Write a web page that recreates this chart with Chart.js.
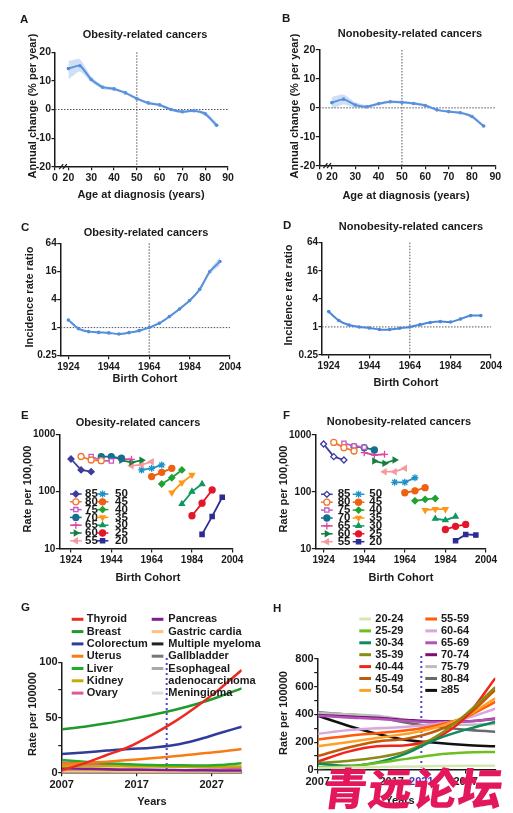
<!DOCTYPE html>
<html>
<head>
<meta charset="utf-8">
<script src="https://cdn.jsdelivr.net/npm/chart.js@4.4.1/dist/chart.umd.min.js"></script>
<style>
html, body { margin: 0; padding: 0; background: #fff; }
#fig { position: relative; width: 513px; height: 813px; overflow: hidden;
  font-family: "Liberation Sans", Arial, sans-serif; font-weight: bold; color: #1a1a1a; }
#fig canvas { position: absolute; }
.t { position: absolute; white-space: nowrap; font-size: 11px; line-height: 13px; transform: translate(-50%, -50%); }
.v { transform: translate(-50%, -50%) rotate(-90deg); }
.k { position: absolute; font-size: 11.5px; line-height: 13px; transform: translateY(-50%); }
#wm { position: absolute; left: 324px; top: 764px; font-family: "Noto Sans CJK SC", sans-serif; font-weight: 900;
  font-size: 44px; line-height: 44px; color: #e3175c; letter-spacing: 1px; transform: skewX(-8deg); white-space: nowrap; }
</style>
</head>
<body>
<div id="fig"></div>
<script>
// A, B: annual percent change by age at diagnosis
var ages = [20, 25, 30, 35, 40, 45, 50, 55, 60, 65, 70, 75, 80, 85];
var obesityAPC   = [14.3, 15.3, 10.5, 7.8, 7.2, 5.8, 3.8, 2.3, 1.6, 0.0, -0.8, -0.4, -1.5, -5.5];
var obesityAPCLo = [10.5, 13.3, 9.6, 7.1, 6.6, 5.3, 3.3, 1.8, 1.1, -0.5, -1.3, -0.9, -2.2, -6.5];
var obesityAPCHi = [17.0, 17.6, 11.5, 8.5, 7.8, 6.3, 4.3, 2.8, 2.1, 0.5, -0.3, 0.1, -0.8, -4.5];
var nonobesityAPC   = [1.8, 3.0, 1.0, 0.4, 1.4, 2.1, 1.9, 1.5, 0.8, -0.7, -1.3, -1.7, -3.0, -6.3];
var nonobesityAPCLo = [-0.3, 1.2, 0.1, -0.1, 0.9, 1.6, 1.4, 1.0, 0.3, -1.1, -1.7, -2.1, -3.5, -6.9];
var nonobesityAPCHi = [3.8, 4.6, 1.9, 0.9, 1.9, 2.6, 2.4, 2.0, 1.3, -0.3, -0.9, -1.3, -2.5, -5.7];

// C, D: incidence rate ratio by birth cohort
var cohorts = [1924, 1929, 1934, 1939, 1944, 1949, 1954, 1959, 1964, 1969, 1974, 1979, 1984, 1989, 1994, 1999];
var obesityIRR   = [1.46, 0.95, 0.82, 0.79, 0.77, 0.73, 0.78, 0.86, 1.0, 1.24, 1.72, 2.5, 3.8, 6.6, 15.8, 26];
var obesityIRRLo = [1.38, 0.92, 0.80, 0.77, 0.75, 0.71, 0.76, 0.84, 0.98, 1.21, 1.67, 2.42, 3.65, 6.2, 14.3, 21];
var obesityIRRHi = [1.55, 0.98, 0.84, 0.81, 0.79, 0.75, 0.80, 0.88, 1.02, 1.27, 1.77, 2.58, 3.95, 7.0, 17.4, 32];
var nonobesityIRR = [2.13, 1.37, 1.1, 1.0, 0.95, 0.88, 0.88, 0.94, 1.0, 1.12, 1.24, 1.3, 1.28, 1.48, 1.75, 1.75];

// E, F: rate per 100,000 by age group, three periods each (cohort = period - age)
var ageGroups = [85, 80, 75, 70, 65, 60, 55, 50, 45, 40, 35, 30, 25, 20];
var periods = [2009, 2014, 2019];
var obesityRates = [
  [371, 239, 223], [410, 356, 347], [410, 347, 342], [408, 408, 382], [397, 371, 366],
  [352, 325, 352], [284, 292, 333], [239, 255, 292], [183, 217, 255], [136, 175, 239],
  [96, 143, 195], [61, 100, 136], [38, 63, 107], [18, 37, 80]
];
var nonobesityRates = [
  [696, 417, 364], [742, 600, 524], [714, 642, 608], [624, 600, 546], [489, 446, 458],
  [349, 318, 364], [227, 227, 260], [148, 148, 178], [97, 105, 119], [70, 74, 77],
  [48, 50, 50], [34, 32, 37], [22, 25, 27], [14, 18, 17.6]
];

// G: projected rate per 100000 by cancer type
var gYears = [2007, 2010, 2013, 2016, 2019, 2022, 2025, 2028, 2031];
var cancerTypes = ['Thyroid', 'Breast', 'Colorectum', 'Uterus', 'Liver', 'Kidney', 'Ovary',
  'Pancreas', 'Gastric cardia', 'Multiple myeloma', 'Gallbladder', 'Esophageal\nadenocarcinoma', 'Meningioma'];
var cancerRates = [
  [2, 8.5, 16, 23.5, 34, 46, 60, 75.5, 93],
  [39.3, 41.7, 44.7, 48.3, 52.3, 56.8, 62.2, 68.8, 76.4],
  [17, 18.4, 20, 21.5, 22.6, 25, 29.6, 35.7, 41.7],
  [7.6, 8.8, 10, 11.5, 13, 14.8, 17, 19, 21.5],
  [11.5, 10, 8.5, 7.7, 7, 6.7, 6.5, 7, 8.5],
  [5.8, 5.8, 5.8, 5.7, 5.6, 5.5, 5.5, 5.5, 5.6],
  [9, 8.2, 7.5, 6.8, 6.2, 5.6, 5, 4.6, 4.2],
  [4, 3.6, 3.2, 2.9, 2.6, 2.4, 2.2, 2.0, 1.9],
  [1.2, 1.1, 1.0, 0.9, 0.9, 0.8, 0.8, 0.7, 0.7],
  [1.6, 1.6, 1.6, 1.6, 1.6, 1.6, 1.6, 1.6, 1.6],
  [1.0, 1.0, 1.0, 1.0, 1.0, 1.0, 1.0, 1.0, 1.0],
  [0.5, 0.5, 0.5, 0.5, 0.5, 0.5, 0.5, 0.5, 0.5],
  [0.3, 0.3, 0.3, 0.3, 0.3, 0.3, 0.3, 0.3, 0.3]
];

// H: projected rate per 100000 by age band
var hYears = [2007, 2011, 2015, 2019, 2023, 2027, 2031];
var ageBands = ['20-24', '25-29', '30-34', '35-39', '40-44', '45-49', '50-54',
  '55-59', '60-64', '65-69', '70-74', '75-79', '80-84', '\u226585'];
var bandRates = [
  [15, 18, 22, 25, 28, 30, 30],
  [20, 25, 50, 80, 110, 125, 130],
  [45, 30, 55, 120, 220, 290, 345],
  [50, 65, 90, 135, 240, 400, 595],
  [60, 130, 170, 178, 230, 380, 660],
  [100, 160, 205, 225, 280, 385, 575],
  [170, 200, 230, 260, 305, 385, 515],
  [220, 245, 265, 285, 320, 380, 490],
  [260, 285, 300, 310, 330, 370, 440],
  [390, 378, 368, 352, 345, 348, 365],
  [395, 385, 375, 360, 350, 350, 370],
  [410, 400, 390, 360, 335, 325, 330],
  [415, 400, 380, 340, 310, 290, 275],
  [390, 320, 260, 215, 195, 180, 170]
];

// styling
var FONT = '"Liberation Sans", Arial, sans-serif';
var INK = '#1a1a1a';
var BLUE = '#4b88d8';
var BANDFILL = 'rgba(118,163,228,0.35)';
var ageColors = ['#3d3d9e', '#f2772e', '#c25bc2', '#156f8e', '#e0449e', '#12803e', '#f7999e',
  '#1d93c8', '#ee6112', '#1ea233', '#ff9616', '#10985f', '#e5162a', '#2c2c93'];
var ageMarkers = ['rectRot', 'circle', 'rect', 'circle', 'cross', 'triangle', 'triangle',
  'star', 'circle', 'rectRot', 'triangle', 'triangle', 'circle', 'rect'];
var ageMarkerRot = [0, 0, 0, 0, 0, 90, -90, 0, 0, 0, 180, 0, 0, 0];
var openE = [false, true, true, false, false, false, false, false, false, false, false, false, false, false];
var openF = [true, true, true, false, false, false, false, false, false, false, false, false, false, false];
var cancerColors = ['#ec2a22', '#1f9a2c', '#2f3d99', '#f57d14', '#27a92a', '#c8a80a', '#e2589e',
  '#7d1f8c', '#ffc27e', '#222222', '#777777', '#a9a9a9', '#dddddd'];
var bandColors = ['#d5e8b4', '#6cbf1f', '#0f8a5c', '#8b8a12', '#f2241a', '#c45a08', '#ffa126',
  '#ff5b0a', '#dba6dc', '#b254b4', '#7e0f72', '#bdbdbd', '#6a6a6a', '#111111'];

Chart.defaults.font.family = FONT;
Chart.defaults.font.weight = 'bold';
Chart.defaults.color = INK;

var fig = document.getElementById('fig');

function txt(s, x, y, cls) {
  var d = document.createElement('div');
  d.className = cls || 't';
  d.style.left = x + 'px';
  d.style.top = y + 'px';
  d.textContent = s;
  fig.appendChild(d);
}

function axis(min, max, ticks, o) {
  o = o || {};
  return {
    type: o.type || 'linear',
    min: min, max: max,
    afterBuildTicks: function (s) { s.ticks = ticks.map(function (v) { return { value: v }; }); },
    ticks: {
      autoSkip: false, maxRotation: 0, minRotation: 0, padding: o.pad != null ? o.pad : 2,
      font: { size: o.size || 10, weight: 'bold' },
      color: o.color || INK,
      callback: o.label || function (v) { return String(v); }
    },
    grid: { drawOnChartArea: false, tickLength: 3.5, color: INK, lineWidth: 1.2 },
    border: { display: true, color: INK, width: 1.5 }
  };
}

// dotted reference lines + axis break mark
var refLines = {
  id: 'refLines',
  beforeDatasetsDraw: function (chart, args, o) {
    if (!o) return;
    var ctx = chart.ctx, a = chart.chartArea, x = chart.scales.x, y = chart.scales.y;
    ctx.save();
    ctx.strokeStyle = o.color || '#555';
    ctx.lineWidth = o.width || 1;
    ctx.setLineDash(o.dash || [1.5, 1.5]);
    if (o.x != null) {
      var px = x.getPixelForValue(o.x);
      ctx.beginPath(); ctx.moveTo(px, o.top != null ? o.top : a.top); ctx.lineTo(px, a.bottom); ctx.stroke();
    }
    if (o.y != null) {
      var py = y.getPixelForValue(o.y);
      ctx.beginPath(); ctx.moveTo(a.left, py); ctx.lineTo(a.right, py); ctx.stroke();
    }
    ctx.restore();
  },
  afterDraw: function (chart, args, o) {
    if (!o || o.breakAt == null) return;
    var ctx = chart.ctx, bx = chart.scales.x.getPixelForValue(o.breakAt), by = chart.chartArea.bottom;
    ctx.save();
    ctx.strokeStyle = INK; ctx.lineWidth = 1.2;
    [-1.8, 1.8].forEach(function (d) {
      ctx.beginPath(); ctx.moveTo(bx + d - 2, by + 2.5); ctx.lineTo(bx + d + 2, by - 2.5); ctx.stroke();
    });
    ctx.restore();
  }
};

// two-column legend drawn inside the plot
var panelLegend = {
  id: 'panelLegend',
  afterDatasetsDraw: function (chart, args, o) {
    if (!o || !o.cols) return;
    var ctx = chart.ctx;
    ctx.save();
    ctx.font = 'bold ' + o.size + 'px ' + FONT;
    ctx.textBaseline = 'middle';
    var rowsUsed = [0, 0], n = 0;
    chart.data.datasets.forEach(function (ds) {
      if (!ds.label) return;
      var c = Math.floor(n / o.perCol);
      n++;
      var col = o.cols[c];
      var yy = o.y0 + rowsUsed[c] * o.dy;
      var lines = ds.label.split('\n');
      rowsUsed[c] += lines.length;
      ctx.setLineDash([]);
      ctx.strokeStyle = ds.borderColor;
      ctx.lineWidth = o.lineWidth;
      ctx.beginPath(); ctx.moveTo(col.lx, yy); ctx.lineTo(col.lx + o.lineLen, yy); ctx.stroke();
      if (o.markers) {
        ctx.fillStyle = ds.pointBackgroundColor;
        ctx.strokeStyle = ds.pointBorderColor;
        ctx.lineWidth = ds.pointBorderWidth;
        Chart.helpers.drawPoint(ctx, { pointStyle: ds.pointStyle, rotation: ds.pointRotation,
          radius: ds.pointRadius, borderWidth: ds.pointBorderWidth }, col.lx + o.lineLen / 2, yy);
      }
      ctx.fillStyle = INK;
      lines.forEach(function (s, k) { ctx.fillText(s, col.tx, yy + k * o.dy); });
    });
    ctx.restore();
  }
};

function panel(box, area, config) {
  var canvas = document.createElement('canvas');
  canvas.width = box.w; canvas.height = box.h;
  canvas.style.left = box.x + 'px'; canvas.style.top = box.y + 'px';
  fig.appendChild(canvas);
  var o = config.options;
  o.responsive = false;
  o.animation = false;
  o.layout = { padding: { left: area.l - 40, top: area.t, right: box.w - area.r, bottom: box.h - area.b - 25 } };
  o.scales.x.afterFit = function (s) { s.height = 25; };
  o.scales.y.afterFit = function (s) { s.width = 40; };
  o.plugins = Object.assign({ legend: { display: false }, tooltip: { enabled: false } }, o.plugins);
  config.plugins = [refLines, panelLegend];
  return new Chart(canvas, config);
}

function pts(xs, ys) { return xs.map(function (x, i) { return { x: x, y: ys[i] }; }); }

function ciSets(xs, lo, hi, tension) {
  return [
    { data: pts(xs, lo), borderWidth: 0, pointRadius: 0, fill: false, tension: tension },
    { data: pts(xs, hi), borderWidth: 0, pointRadius: 0, fill: '-1', backgroundColor: BANDFILL, tension: tension }
  ];
}

function mainLine(xs, ys, tension) {
  return { data: pts(xs, ys), borderColor: BLUE, backgroundColor: BLUE, borderWidth: 2,
    pointRadius: 1.8, pointBorderWidth: 0, tension: tension, fill: false };
}

function cohortSets(rates, open) {
  return ageGroups.map(function (age, i) {
    return {
      label: String(age),
      data: periods.map(function (p, j) { return { x: p - age, y: rates[i][j] }; }),
      borderColor: ageColors[i], borderWidth: 1.8, fill: false,
      pointStyle: ageMarkers[i], pointRotation: ageMarkerRot[i],
      pointRadius: ageMarkers[i] === 'cross' || ageMarkers[i] === 'star' ? 3.5 : 3,
      pointBorderWidth: 1.3, pointBorderColor: ageColors[i],
      pointBackgroundColor: open[i] ? '#ffffff' : ageColors[i]
    };
  });
}

function curveSets(xs, labels, rows, colors) {
  return labels.map(function (lab, i) {
    return { label: lab, data: pts(xs, rows[i]), borderColor: colors[i], borderWidth: 2.5,
      pointRadius: 0, cubicInterpolationMode: 'monotone', fill: false };
  });
}

var apcTicks = [-20, -10, 0, 10, 20];
var ageLabel = function (v) { return v < 20 ? '0' : String(v); };

// A
panel({ x: 0, y: 0, w: 256, h: 200 }, { l: 55, r: 228, t: 52.3, b: 166.7 }, {
  type: 'line',
  data: { datasets: ciSets(ages, obesityAPCLo, obesityAPCHi, 0.2).concat([mainLine(ages, obesityAPC, 0.2)]) },
  options: {
    scales: { x: axis(14.1, 90, [14.1, 20, 30, 40, 50, 60, 70, 80, 90], { label: ageLabel, size: 10.5 }),
              y: axis(-20, 20, apcTicks, { pad: 0.5, size: 10.5 }) },
    plugins: { refLines: { x: 50, y: 0, breakAt: 17.6 } }
  }
});
// B
panel({ x: 256, y: 0, w: 257, h: 200 }, { l: 63.3, r: 239.3, t: 50, b: 165.7 }, {
  type: 'line',
  data: { datasets: ciSets(ages, nonobesityAPCLo, nonobesityAPCHi, 0.2).concat([mainLine(ages, nonobesityAPC, 0.2)]) },
  options: {
    scales: { x: axis(14.6, 90, [14.6, 20, 30, 40, 50, 60, 70, 80, 90], { label: ageLabel, size: 10.5 }),
              y: axis(-20, 20, apcTicks, { pad: 0.5, size: 10.5 }) },
    plugins: { refLines: { x: 50, y: 0, breakAt: 18 } }
  }
});

var irrTicks = [0.25, 1, 4, 16, 64];
var cohortTicks = [1924, 1944, 1964, 1984, 2004];
// C
panel({ x: 0, y: 200, w: 256, h: 200 }, { l: 60.7, r: 230, t: 43.3, b: 155.7 }, {
  type: 'line',
  data: { datasets: ciSets(cohorts, obesityIRRLo, obesityIRRHi, 0.3).concat([mainLine(cohorts, obesityIRR, 0.3)]) },
  options: {
    scales: { x: axis(1920.2, 2004, cohortTicks), y: axis(0.25, 64, irrTicks, { type: 'logarithmic', pad: 0.5 }) },
    plugins: { refLines: { x: 1964, y: 1 } }
  }
});
// D
panel({ x: 256, y: 200, w: 257, h: 200 }, { l: 66, r: 235, t: 42.7, b: 155 }, {
  type: 'line',
  data: { datasets: [mainLine(cohorts, nonobesityIRR, 0.3)] },
  options: {
    scales: { x: axis(1920.7, 2004, cohortTicks), y: axis(0.25, 64, irrTicks, { type: 'logarithmic', pad: 0.5 }) },
    plugins: { refLines: { x: 1964, y: 1 } }
  }
});

var rateTicks = [10, 100, 1000];
// E
panel({ x: 0, y: 400, w: 256, h: 200 }, { l: 59.3, r: 232.3, t: 34.3, b: 149 }, {
  type: 'line',
  data: { datasets: cohortSets(obesityRates, openE) },
  options: {
    scales: { x: axis(1918.2, 2004, cohortTicks), y: axis(10, 1000, rateTicks, { type: 'logarithmic', pad: 0.5 }) },
    plugins: { panelLegend: { cols: [{ lx: 70, tx: 85 }, { lx: 96.7, tx: 115 }], y0: 94, dy: 7.8, perCol: 7,
      lineLen: 11.7, size: 11.5, lineWidth: 1.5, markers: true } }
  }
});
// F
panel({ x: 256, y: 400, w: 257, h: 200 }, { l: 59.3, r: 230, t: 35, b: 149 }, {
  type: 'line',
  data: { datasets: cohortSets(nonobesityRates, openF) },
  options: {
    scales: { x: axis(1919.9, 2004, cohortTicks), y: axis(10, 1000, rateTicks, { type: 'logarithmic', pad: 0.5 }) },
    plugins: { panelLegend: { cols: [{ lx: 65, tx: 81.7 }, { lx: 96.7, tx: 113.3 }], y0: 94.3, dy: 7.9, perCol: 7,
      lineLen: 11.7, size: 11.5, lineWidth: 1.5, markers: true } }
  }
});

// G
panel({ x: 0, y: 600, w: 270, h: 213 }, { l: 61.7, r: 241.7, t: 62.3, b: 172.7 }, {
  type: 'line',
  data: { datasets: curveSets(gYears, cancerTypes, cancerRates, cancerColors) },
  options: {
    scales: { x: axis(2007, 2031, [2007, 2017, 2027], { size: 11 }),
              y: axis(0, 100, [0, 25, 50, 75, 100], { pad: 0.5, size: 11, label: function (v) { return v % 50 === 0 ? String(v) : ''; } }) },
    plugins: {
      refLines: { x: 2021, top: 58, color: '#4a4ac4', width: 2, dash: [2, 3] },
      panelLegend: { cols: [{ lx: 71.7, tx: 86.7 }, { lx: 151.7, tx: 168.3 }], y0: 19.3, dy: 12.3, perCol: 7,
        lineLen: 11.7, size: 11, lineWidth: 3, markers: false }
    }
  }
});
// H
panel({ x: 256, y: 600, w: 257, h: 213 }, { l: 61.7, r: 239.3, t: 58.7, b: 170 }, {
  type: 'line',
  data: { datasets: curveSets(hYears, ageBands, bandRates, bandColors) },
  options: {
    scales: { x: axis(2007, 2031, [2007, 2017, 2021, 2027], { size: 11,
                color: function (c) { return c.tick && c.tick.value === 2021 ? '#3838c8' : INK; } }),
              y: axis(0, 800, [0, 100, 200, 300, 400, 500, 600, 700, 800], { pad: 0.5, size: 11,
                label: function (v) { return v % 200 === 0 ? String(v) : ''; } }) },
    plugins: {
      refLines: { x: 2021, top: 56, color: '#4a4ac4', width: 2, dash: [2, 3] },
      panelLegend: { cols: [{ lx: 103.3, tx: 119.3 }, { lx: 169.3, tx: 185 }], y0: 19, dy: 11.9, perCol: 7,
        lineLen: 11.7, size: 11, lineWidth: 3, markers: false }
    }
  }
});

// panel letters, titles and axis titles
txt('A', 20, 19, 'k'); txt('B', 282, 18, 'k'); txt('C', 21, 227, 'k'); txt('D', 283, 225, 'k');
txt('E', 21, 415, 'k'); txt('F', 283, 415, 'k'); txt('G', 21, 607, 'k'); txt('H', 273, 608, 'k');

txt('Obesity-related cancers', 145, 34);
txt('Nonobesity-related cancers', 410, 33);
txt('Obesity-related cancers', 146, 232);
txt('Nonobesity-related cancers', 411, 226);
txt('Obesity-related cancers', 138, 422);
txt('Nonobesity-related cancers', 399, 421);

txt('Annual change (% per year)', 32, 106, 't v');
txt('Annual change (% per year)', 294, 106, 't v');
txt('Age at diagnosis (years)', 141, 194);
txt('Age at diagnosis (years)', 406, 195);
txt('Incidence rate ratio', 29, 297, 't v');
txt('Incidence rate ratio', 288, 295, 't v');
txt('Birth Cohort', 145, 378);
txt('Birth Cohort', 406, 382);
txt('Rate per 100,000', 27, 489, 't v');
txt('Rate per 100,000', 283, 489, 't v');
txt('Birth Cohort', 148, 577);
txt('Birth Cohort', 401, 577);
txt('Rate per 100000', 32, 714, 't v');
txt('Rate per 100000', 283, 713, 't v');
txt('Years', 152, 801);
txt('Years', 400, 800);

var wm = document.createElement('div');
wm.id = 'wm';
wm.textContent = '青远论坛';
fig.appendChild(wm);
</script>
</body>
</html>
